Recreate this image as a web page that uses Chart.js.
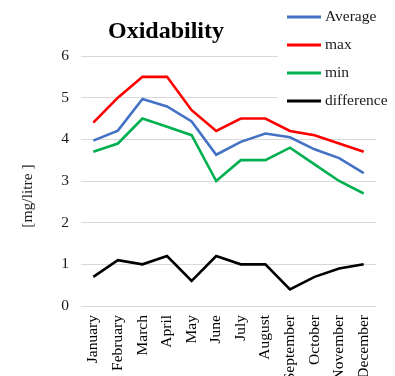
<!DOCTYPE html>
<html>
<head>
<meta charset="utf-8">
<script src="https://cdn.jsdelivr.net/npm/chart.js@4/dist/chart.umd.min.js"></script>
<style>
  html, body { margin: 0; padding: 0; background: #fff; }
  #wrap { width: 395px; height: 376px; position: relative; }
</style>
</head>
<body>
<div id="wrap"><canvas id="c" width="395" height="376"></canvas></div>
<script>
// Monthly oxidability readings [mg/litre]
const months = ['January', 'February', 'March', 'April', 'May', 'June', 'July',
                'August', 'September', 'October', 'November', 'December'];
const average    = [3.97, 4.21, 4.97, 4.79, 4.43, 3.63, 3.94, 4.14, 4.05, 3.76, 3.55, 3.19];
const maxValues  = [4.4, 5.0, 5.5, 5.5, 4.7, 4.2, 4.5, 4.5, 4.2, 4.1, 3.9, 3.7];
const minValues  = [3.7, 3.9, 4.5, 4.3, 4.1, 3.0, 3.5, 3.5, 3.8, 3.4, 3.0, 2.7];
const difference = [0.7, 1.1, 1.0, 1.2, 0.6, 1.2, 1.0, 1.0, 0.4, 0.7, 0.9, 1.0];
const yTicks = [0, 1, 2, 3, 4, 5, 6];

const chartTitle = 'Oxidability';
const yTitle = '[mg/litre ]';
const serif = '"Liberation Serif", "Times New Roman", serif';
const textSize = 15.5;

// Title, axis title and a boxed legend in the top-right corner
const decorations = {
  id: 'decorations',
  afterDraw(chart) {
    const ctx = chart.ctx;
    ctx.save();

    ctx.fillStyle = '#000';
    ctx.font = 'bold 24px ' + serif;
    ctx.textAlign = 'center';
    ctx.textBaseline = 'alphabetic';
    ctx.fillText(chartTitle, 166, 38);

    ctx.save();
    ctx.translate(28, 196);
    ctx.rotate(-Math.PI / 2);
    ctx.font = textSize + 'px ' + serif;
    ctx.fillStyle = '#1a1a1a';
    ctx.textAlign = 'center';
    ctx.textBaseline = 'middle';
    ctx.fillText(yTitle, 0, 0);
    ctx.restore();

    // legend box
    ctx.fillStyle = '#fff';
    ctx.fillRect(278, 0, chart.width - 278, 116);
    ctx.font = textSize + 'px ' + serif;
    ctx.textAlign = 'left';
    ctx.textBaseline = 'middle';
    chart.data.datasets.forEach((ds, i) => {
      const y = 17 + i * 28;
      ctx.strokeStyle = ds.borderColor;
      ctx.lineWidth = 3;
      ctx.beginPath();
      ctx.moveTo(287, y);
      ctx.lineTo(321, y);
      ctx.stroke();
      ctx.fillStyle = '#1a1a1a';
      ctx.fillText(ds.label, 325, y);
    });
    ctx.restore();
  }
};

const line = (label, data, color) => ({
  label, data,
  borderColor: color,
  backgroundColor: color,
  borderWidth: 2.6,
  pointRadius: 0,
  tension: 0,
  fill: false
});

new Chart(document.getElementById('c'), {
  type: 'line',
  data: {
    labels: months,
    datasets: [
      line('Average', average, '#4472C4'),
      line('max', maxValues, '#FF0000'),
      line('min', minValues, '#00B050'),
      line('difference', difference, '#000000')
    ]
  },
  options: {
    responsive: false,
    animation: false,
    layout: { padding: { top: 56, right: 19, left: 0, bottom: 0 } },
    plugins: { legend: { display: false }, title: { display: false }, tooltip: { enabled: false } },
    scales: {
      x: {
        offset: true,
        grid: { display: false, drawTicks: false },
        border: { display: false },
        ticks: {
          autoSkip: false,
          minRotation: 90,
          maxRotation: 90,
          padding: 9,
          color: '#000',
          font: { family: serif, size: textSize }
        },
        afterFit(scale) { scale.height = 70; }
      },
      y: {
        min: 0,
        max: 6,
        afterBuildTicks(scale) { scale.ticks = yTicks.map(v => ({ value: v })); },
        grid: { color: '#d9d9d9', lineWidth: 1, drawTicks: false },
        border: { display: false },
        ticks: {
          padding: 12,
          color: '#1a1a1a',
          font: { family: serif, size: textSize }
        },
        afterFit(scale) { scale.width = 81; }
      }
    }
  },
  plugins: [decorations]
});
</script>
</body>
</html>
